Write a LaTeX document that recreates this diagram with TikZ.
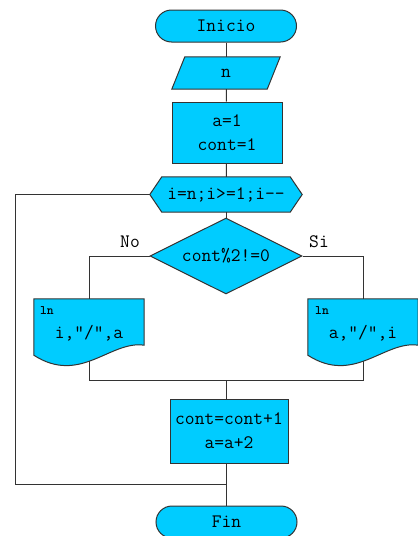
\documentclass[tikz,border=0pt]{standalone}
\usetikzlibrary{shapes.geometric,calc,backgrounds}
\definecolor{fc}{HTML}{00CCFF}
\definecolor{lc}{HTML}{333333}
\newcommand\docoutline[1]{%
  \filldraw[shp] (#1.north west) -- (#1.north east) -- ($(#1.south east)+(0,-18)$)
    .. controls ($(#1.south east)+(-34,-23)$) and ($(#1.south east)+(-64,22)$) .. ($(#1.south west)+(0,-8)$) -- cycle;}
\begin{document}
\begin{tikzpicture}[x=1pt,y=-1pt,
  every node/.style={font=\fontsize{19}{24}\selectfont\ttfamily, inner sep=0pt, text=black},
  shp/.style={draw=lc, fill=fc, line width=1pt},
  term/.style={shp, rectangle, rounded corners=16pt, minimum width=141pt, minimum height=32pt},
  proc/.style={shp, rectangle, align=center},
  ghost/.style={draw=none, rectangle, align=center},
  ln/.style={draw=lc, line width=1pt},
  sm/.style={font=\fontsize{13}{14}\selectfont\ttfamily\bfseries}]
\useasboundingbox (0,0) rectangle (418,536);

\node[term] (ini) at (226,26) {Inicio};
\node[ghost, minimum width=95pt, minimum height=32pt] (n) at (226,73) {n};
\node[proc, minimum width=110pt, minimum height=61pt] (init) at (227,132.5) {a=1\\cont=1};
\node[ghost, minimum width=152pt, minimum height=35pt] (hex) at (226,194.5) {i=n;i>=1;i-{}-};
\node[shp, diamond, aspect=2, minimum width=152pt, minimum height=76pt] (dec) at (226,256) {cont\%2!=0};
\node[ghost, minimum width=110pt, minimum height=64pt] (docL) at (89,331) {};
\node[ghost, minimum width=110pt, minimum height=64pt] (docR) at (363,331) {};
\node (tL) at (89,333) {i,”/”,a};
\node[sm] (lnL) at (47,311) {ln};
\node (tR) at (363,333) {a,”/”,i};
\node[sm] (lnR) at (322,311) {ln};
\node[proc, minimum width=118pt, minimum height=64pt] (upd) at (229,431) {cont=cont+1\\a=a+2};
\node[term] (fin) at (226.5,522) {Fin};
\node (no) at (130,242) {No};
\node (si) at (319,242) {Si};

\begin{scope}[on background layer]
\filldraw[shp] ($(n.north west)+(6.5,0)$) -- ($(n.north east)+(6.5,0)$) -- ($(n.south east)+(-6.5,0)$) -- ($(n.south west)+(-6.5,0)$) -- cycle;
\filldraw[shp] (hex.west) -- ($(hex.north west)+(12,0)$) -- ($(hex.north east)+(-12,0)$) -- (hex.east) -- ($(hex.south east)+(-12,0)$) -- ($(hex.south west)+(12,0)$) -- cycle;
\docoutline{docL}
\docoutline{docR}
\end{scope}

\coordinate (bL) at (89,361);
\coordinate (bR) at (363,361);
\coordinate (mL) at (89,380);
\coordinate (mR) at (363,380);
\coordinate (mC) at (226.5,380);
\coordinate (lpB) at (226.5,484);
\coordinate (lpL) at (15,484);

\draw[ln] (ini) -- (n);
\draw[ln] (n) -- (init);
\draw[ln] (init) -- (hex);
\draw[ln] (hex.south) -- (dec.north);
\draw[ln] (dec.west) -| (docL.north);
\draw[ln] (dec.east) -| (docR.north);
\draw[ln] (bL) -- (mL) -- (mR) -- (bR);
\draw[ln] (mC) -- (mC |- upd.north);
\draw[ln] (upd.south -| fin.north) -- (fin.north);
\draw[ln] (hex.west) -| (lpL) -- (lpB);
\end{tikzpicture}
\end{document}
